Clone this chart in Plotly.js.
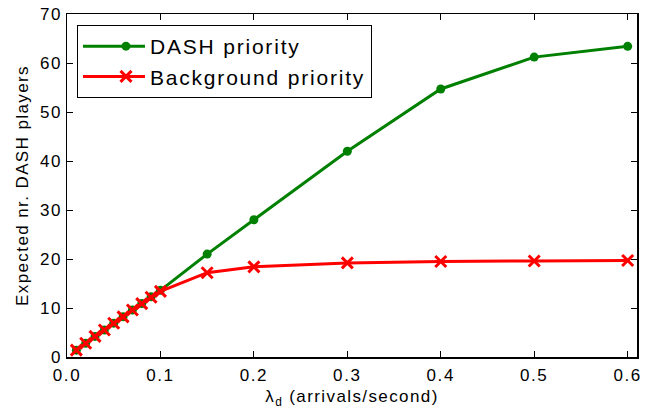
<!DOCTYPE html>
<html><head><meta charset="utf-8">
<script src="https://cdn.plot.ly/plotly-3.0.1.min.js"></script>
<style>
body{margin:0}#c{width:657px;height:414px}
#c .xtick text, #c .ytick text {letter-spacing:1.6px}
.legendtext {letter-spacing:1.8px}
#c .legendsymbols {transform: translate(12px,0px)}
#c .g-xtitle text, #c .g-ytitle text {letter-spacing:1.4px}
</style>
</head><body><div id="c"></div>
<script>
const lambda = [0.01,0.02,0.03,0.04,0.05,0.06,0.07,0.08,0.09,0.10,0.15,0.20,0.30,0.40,0.50,0.60];
const dashPriority = [1.4,2.8,4.2,5.5,6.9,8.2,9.6,10.9,12.3,13.6,21.0,28.0,42.0,54.7,61.2,63.4];
const backgroundPriority = [1.4,2.8,4.2,5.5,6.9,8.2,9.6,10.9,12.2,13.4,17.2,18.4,19.2,19.5,19.6,19.7];
const xTicks = [0,0.1,0.2,0.3,0.4,0.5,0.6];
const xTickLabels = ['0.0','0.1','0.2','0.3','0.4','0.5','0.6'];
const yTicks = [0,10,20,30,40,50,60,70];

const font = 'Liberation Sans, Arial, sans-serif';
const traces = [
  {x: lambda, y: dashPriority, name: 'DASH priority', mode: 'lines+markers',
   line: {color: '#008000', width: 3}, marker: {color: '#008000', size: 9, symbol: 'circle'}},
  {x: lambda, y: backgroundPriority, name: 'Background priority', mode: 'lines+markers',
   line: {color: '#ff0000', width: 3}, marker: {color: '#ff0000', size: 11, symbol: 'x-thin', line: {color: '#ff0000', width: 3}}}
];
const axisCommon = {showgrid: false, zeroline: false, showline: true, linecolor: '#000', linewidth: 1.5,
  mirror: 'ticks', ticks: 'inside', ticklen: 6, tickcolor: '#000', tickfont: {family: font, size: 17, color: '#000'}};
const layout = {
  width: 657, height: 414,
  margin: {l: 67, r: 20, t: 14, b: 57},
  paper_bgcolor: '#fff', plot_bgcolor: '#fff',
  font: {family: font, color: '#000'},
  xaxis: Object.assign({}, axisCommon, {range: [0, 0.61], tickvals: xTicks, ticktext: xTickLabels, ticklabelstandoff: 2,
    title: {text: 'λ<sub>d</sub> (arrivals/second)', font: {family: font, size: 17}, standoff: 6}}),
  yaxis: Object.assign({}, axisCommon, {range: [0, 70], tickvals: yTicks,
    title: {text: 'Expected nr. DASH players', font: {family: font, size: 17}, standoff: 10}}),
  showlegend: true,
  legend: {x: 0.0175, y: 0.968, xanchor: 'left', yanchor: 'top', bgcolor: '#fff', bordercolor: '#000', borderwidth: 1,
    font: {family: font, size: 21}, tracegroupgap: 0, itemwidth: 62}
};
Plotly.newPlot('c', traces, layout, {displayModeBar: false, staticPlot: true});
</script></body></html>
